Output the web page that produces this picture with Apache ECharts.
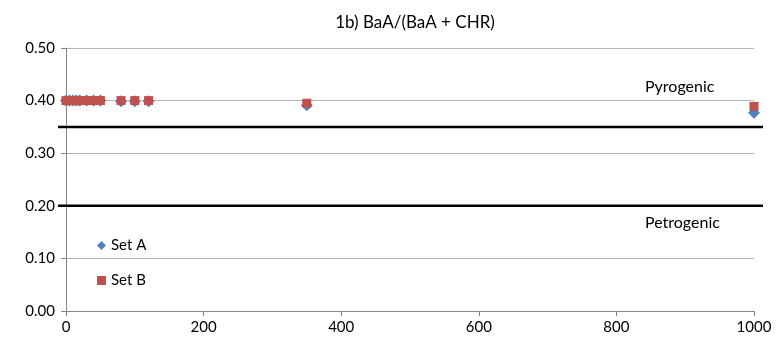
<!DOCTYPE html>
<html>
<head>
<meta charset="utf-8">
<script src="https://cdn.jsdelivr.net/npm/echarts@6/dist/echarts.min.js"></script>
<style>
  html, body { margin: 0; padding: 0; background: #fff; }
  #chart { width: 778px; height: 345px; }
</style>
</head>
<body>
<div id="chart"></div>
<script>
// x positions of the samples
var xValues = [0, 5, 10, 15, 20, 30, 40, 50, 80, 100, 120, 350, 1000];
var setA = [0.40, 0.40, 0.40, 0.40, 0.40, 0.40, 0.40, 0.40, 0.399, 0.399, 0.399, 0.391, 0.377];
var setB = [0.40, 0.40, 0.40, 0.40, 0.40, 0.40, 0.40, 0.40, 0.40, 0.40, 0.40, 0.395, 0.389];
// boundaries between source types
var pyroLimit = 0.35;
var petroLimit = 0.20;

function pairs(xs, ys) {
    return xs.map(function (x, i) { return [x, ys[i]]; });
}

var font = 'Lato, "Open Sans", sans-serif';
var chart = echarts.init(document.getElementById('chart'));

var option = {
    animation: false,
    textStyle: { fontFamily: font },
    title: {
        text: '1b) BaA/(BaA + CHR)',
        left: 410, top: 9, textAlign: 'center',
        textStyle: { fontSize: 17, fontWeight: 'normal', color: '#000', fontFamily: font }
    },
    legend: {
        orient: 'vertical',
        left: 92, top: 233,
        itemGap: 20, itemWidth: 9, itemHeight: 9,
        textStyle: { fontSize: 15, color: '#000', fontFamily: font },
        data: ['Set A', 'Set B']
    },
    grid: { left: 66, right: 24, top: 48, bottom: 34 },
    xAxis: {
        type: 'value', min: 0, max: 1000, interval: 200,
        axisLine: { lineStyle: { color: '#868686' } },
        axisTick: { show: true, length: 5, lineStyle: { color: '#868686' } },
        axisLabel: { fontSize: 15, color: '#000', margin: 9,
            formatter: function (v) { return String(v); } },
        splitLine: { show: false }
    },
    yAxis: {
        type: 'value', min: 0, max: 0.5, interval: 0.1,
        axisLine: { show: true, lineStyle: { color: '#868686' } },
        axisTick: { show: true, length: 5, lineStyle: { color: '#868686' } },
        axisLabel: { fontSize: 15, color: '#000', margin: 11,
            formatter: function (v) { return v.toFixed(2); } },
        splitLine: { lineStyle: { color: '#b4b4b4' } }
    },
    series: [
        {
            name: 'Set A', type: 'scatter', symbol: 'diamond', symbolSize: 12,
            itemStyle: { color: '#4F81BD', opacity: 1 },
            data: pairs(xValues, setA)
        },
        {
            name: 'Set B', type: 'scatter', symbol: 'rect', symbolSize: 9,
            itemStyle: { color: '#C0504D', opacity: 1 },
            data: pairs(xValues, setB)
        }
    ]
};
chart.setOption(option);

// thick boundary lines reach a little past the plot on both sides
var x0 = chart.convertToPixel({ gridIndex: 0 }, [0, 0])[0];
var x1 = chart.convertToPixel({ gridIndex: 0 }, [1000, 0])[0];
var yPyro = chart.convertToPixel({ gridIndex: 0 }, [0, pyroLimit])[1];
var yPetro = chart.convertToPixel({ gridIndex: 0 }, [0, petroLimit])[1];

chart.setOption({
    graphic: [
        { type: 'line', shape: { x1: x0 - 8, y1: yPyro, x2: x1 + 9, y2: yPyro },
          style: { stroke: '#000', lineWidth: 2.5 }, z: 10 },
        { type: 'line', shape: { x1: x0 - 8, y1: yPetro, x2: x1 + 9, y2: yPetro },
          style: { stroke: '#000', lineWidth: 2.5 }, z: 10 },
        { type: 'text', left: 645, top: yPyro - 48,
          style: { text: 'Pyrogenic', fontSize: 16, fontFamily: font, fill: '#000' } },
        { type: 'text', left: 645, top: yPetro + 9,
          style: { text: 'Petrogenic', fontSize: 16, fontFamily: font, fill: '#000' } }
    ]
});
</script>
</body>
</html>
